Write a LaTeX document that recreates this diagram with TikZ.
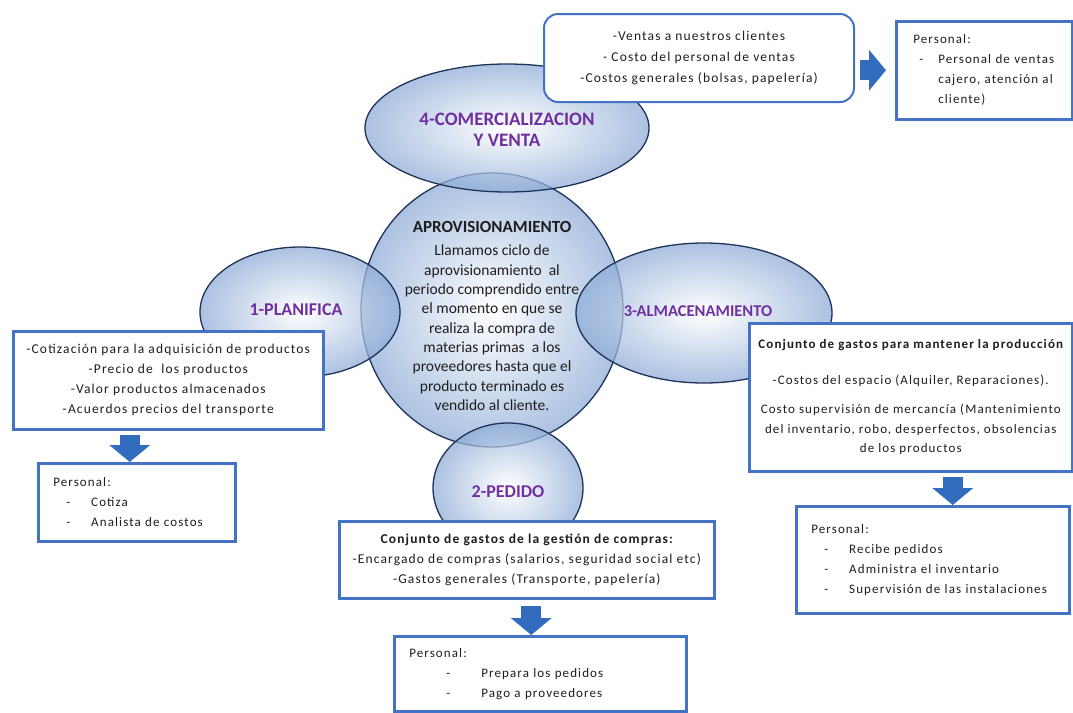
\documentclass[tikz,border=0pt]{standalone}
\usepackage{fontspec}
\setmainfont{Carlito}
\newfontfamily\spacedfont[LetterSpace=8.5]{Carlito}
\usetikzlibrary{shapes.geometric,arrows.meta,positioning}
\definecolor{boxblue}{RGB}{68,114,196}
\definecolor{edgeblue}{RGB}{30,50,90}
\definecolor{bubcol}{RGB}{140,170,214}
\definecolor{lila}{RGB}{112,48,160}
\definecolor{arrowblue}{RGB}{50,108,190}
\definecolor{txtgray}{RGB}{30,30,30}

\newcommand{\listdash}[3]{\hspace*{#1}\makebox[#2][l]{-}#3}

\tikzset{
  bubble/.style={ellipse, draw=edgeblue, line width=1.3pt, inner sep=0pt,
    inner color=white, outer color=bubcol, fill opacity=0.72, text opacity=1},
  bublabel/.style={text=lila, font=\fontsize{18}{21}\selectfont\bfseries, align=center},
  circtext/.style={text=txtgray, font=\fontsize{15.5}{19.3}\selectfont, align=center},
  gastobox/.style={draw=boxblue, line width=2.5pt, fill=white, text=txtgray,
    font=\spacedfont\fontsize{13.5}{20}\selectfont, align=center, anchor=north west},
  persobox/.style={draw=boxblue, line width=2.5pt, fill=white, text=txtgray,
    font=\spacedfont\fontsize{13}{20}\selectfont, align=left, anchor=north west, inner xsep=15pt},
  bigarrow/.style={draw=arrowblue, line width=20pt, -{Triangle[width=40pt,length=17pt]}}
}

\begin{document}
\begin{tikzpicture}[x=1pt,y=1pt,yscale=-1,xscale=1]
\useasboundingbox (0,0) rectangle (1073,712);

%Shape: Ellipse (central circle)
\node[bubble, minimum width=262pt, minimum height=274pt] (aprov) at (492,310) {};
% Text Node
\node[circtext] (aprovtxt) at (492,316) {{\fontsize{17}{19}\selectfont\bfseries APROVISIONAMIENTO}\\[4pt]
  Llamamos ciclo de\\ aprovisionamiento \ al\\ periodo comprendido entre\\
  el momento en que se\\ realiza la compra de\\ materias primas \ a los\\
  proveedores hasta que el\\ producto terminado es\\ vendido al cliente.};

%Shape: Ellipse
\node[bubble, minimum width=284pt, minimum height=128pt] (comerc) at (507,128) {};
\node[bublabel, font=\fontsize{19}{21}\selectfont\bfseries] (comerctxt) at (507,130) {4-COMERCIALIZACION\\ Y VENTA};
%Shape: Ellipse
\node[bubble, minimum width=200pt, minimum height=130pt] (planif) at (300,312) {};
\node[bublabel] (planiftxt) at (296,310) {1-PLANIFICA};
%Shape: Ellipse
\node[bubble, minimum width=256pt, minimum height=140pt] (almac) at (704,313) {};
\node[bublabel, font=\fontsize{16.5}{20}\selectfont\bfseries] (almactxt) at (698,311) {3-ALMACENAMIENTO};
%Shape: Ellipse
\node[bubble, minimum width=150pt, minimum height=130pt] (pedido) at (508,488) {};
\node[bublabel] (pedidotxt) at (508,492) {2-PEDIDO};

% Text Node (top)
\node[gastobox, rounded corners=14pt, line width=2pt, minimum width=310pt, minimum height=88pt,
  font=\spacedfont\fontsize{13.5}{21}\selectfont] (ventas) at (543,13)
  {-Ventas a nuestros clientes\\ - Costo del personal de ventas\\ -Costos generales (bolsas, papelería)};
% Text Node
\node[persobox, inner xsep=17pt, text width=142pt, minimum height=98pt] (ventasper) at (895,20)
  {Personal:\\ \listdash{6pt}{19pt}{Personal de ventas}\\ \hspace*{25pt}cajero, atención al\\
   \hspace*{25pt}cliente)};

% Text Node (left)
\node[gastobox, minimum width=310pt, minimum height=98pt] (cotiz) at (12,330)
  {-Cotización para la adquisición de productos\\ -Precio de \ los productos\\
   -Valor productos almacenados\\ -Acuerdos precios del transporte};
% Text Node
\node[persobox, text width=167pt, minimum height=78pt] (cotizper) at (37,462)
  {Personal:\\ \listdash{13pt}{25pt}{Cotiza}\\ \listdash{13pt}{25pt}{Analista de costos}};

% Text Node (right)
\node[gastobox, minimum width=323pt, minimum height=148pt, inner xsep=2pt,
  font=\spacedfont\fontsize{13}{19.5}\selectfont] (mantener) at (748,322)
  {{\bfseries Conjunto de gastos para mantener la producción}\\[16pt]
   -Costos del espacio (Alquiler, Reparaciones).\\[10pt]
   Costo supervisión de mercancía (Mantenimiento\\ del inventario, robo, desperfectos, obsolencias\\
   de los productos};
% Text Node
\node[persobox, text width=243pt, minimum height=107pt] (almacper) at (795,505)
  {Personal:\\ \listdash{13pt}{25pt}{Recibe pedidos}\\ \listdash{13pt}{25pt}{Administra el inventario}\\
   \listdash{13pt}{25pt}{Supervisión de las instalaciones}};

% Text Node (bottom)
\node[gastobox, minimum width=375pt, minimum height=77pt] (compras) at (338,520)
  {{\bfseries Conjunto de gastos de la gestión de compras:}\\
   -Encargado de compras (salarios, seguridad social etc)\\ -Gastos generales (Transporte, papelería)};
% Text Node
\node[persobox, text width=262pt, minimum height=75pt] (pedidoper) at (393,635)
  {Personal:\\ \listdash{37pt}{35pt}{Prepara los pedidos}\\ \listdash{37pt}{35pt}{Pago a proveedores}};

%Block arrows
\draw[bigarrow, shorten <=5pt, shorten >=9pt] (ventas.east |- ventasper.west) -- (ventasper.west);
\draw[bigarrow, shorten <=4pt] ([xshift=-7pt]cotizper.north |- cotiz.south) -- ([xshift=-7pt]cotizper.north);
\draw[bigarrow, shorten <=4pt] ([xshift=20pt]almacper.north |- mantener.south) -- ([xshift=20pt]almacper.north);
\draw[bigarrow, shorten <=6pt] ([xshift=-9pt]pedidoper.north |- compras.south) -- ([xshift=-9pt]pedidoper.north);

\end{tikzpicture}
\end{document}
